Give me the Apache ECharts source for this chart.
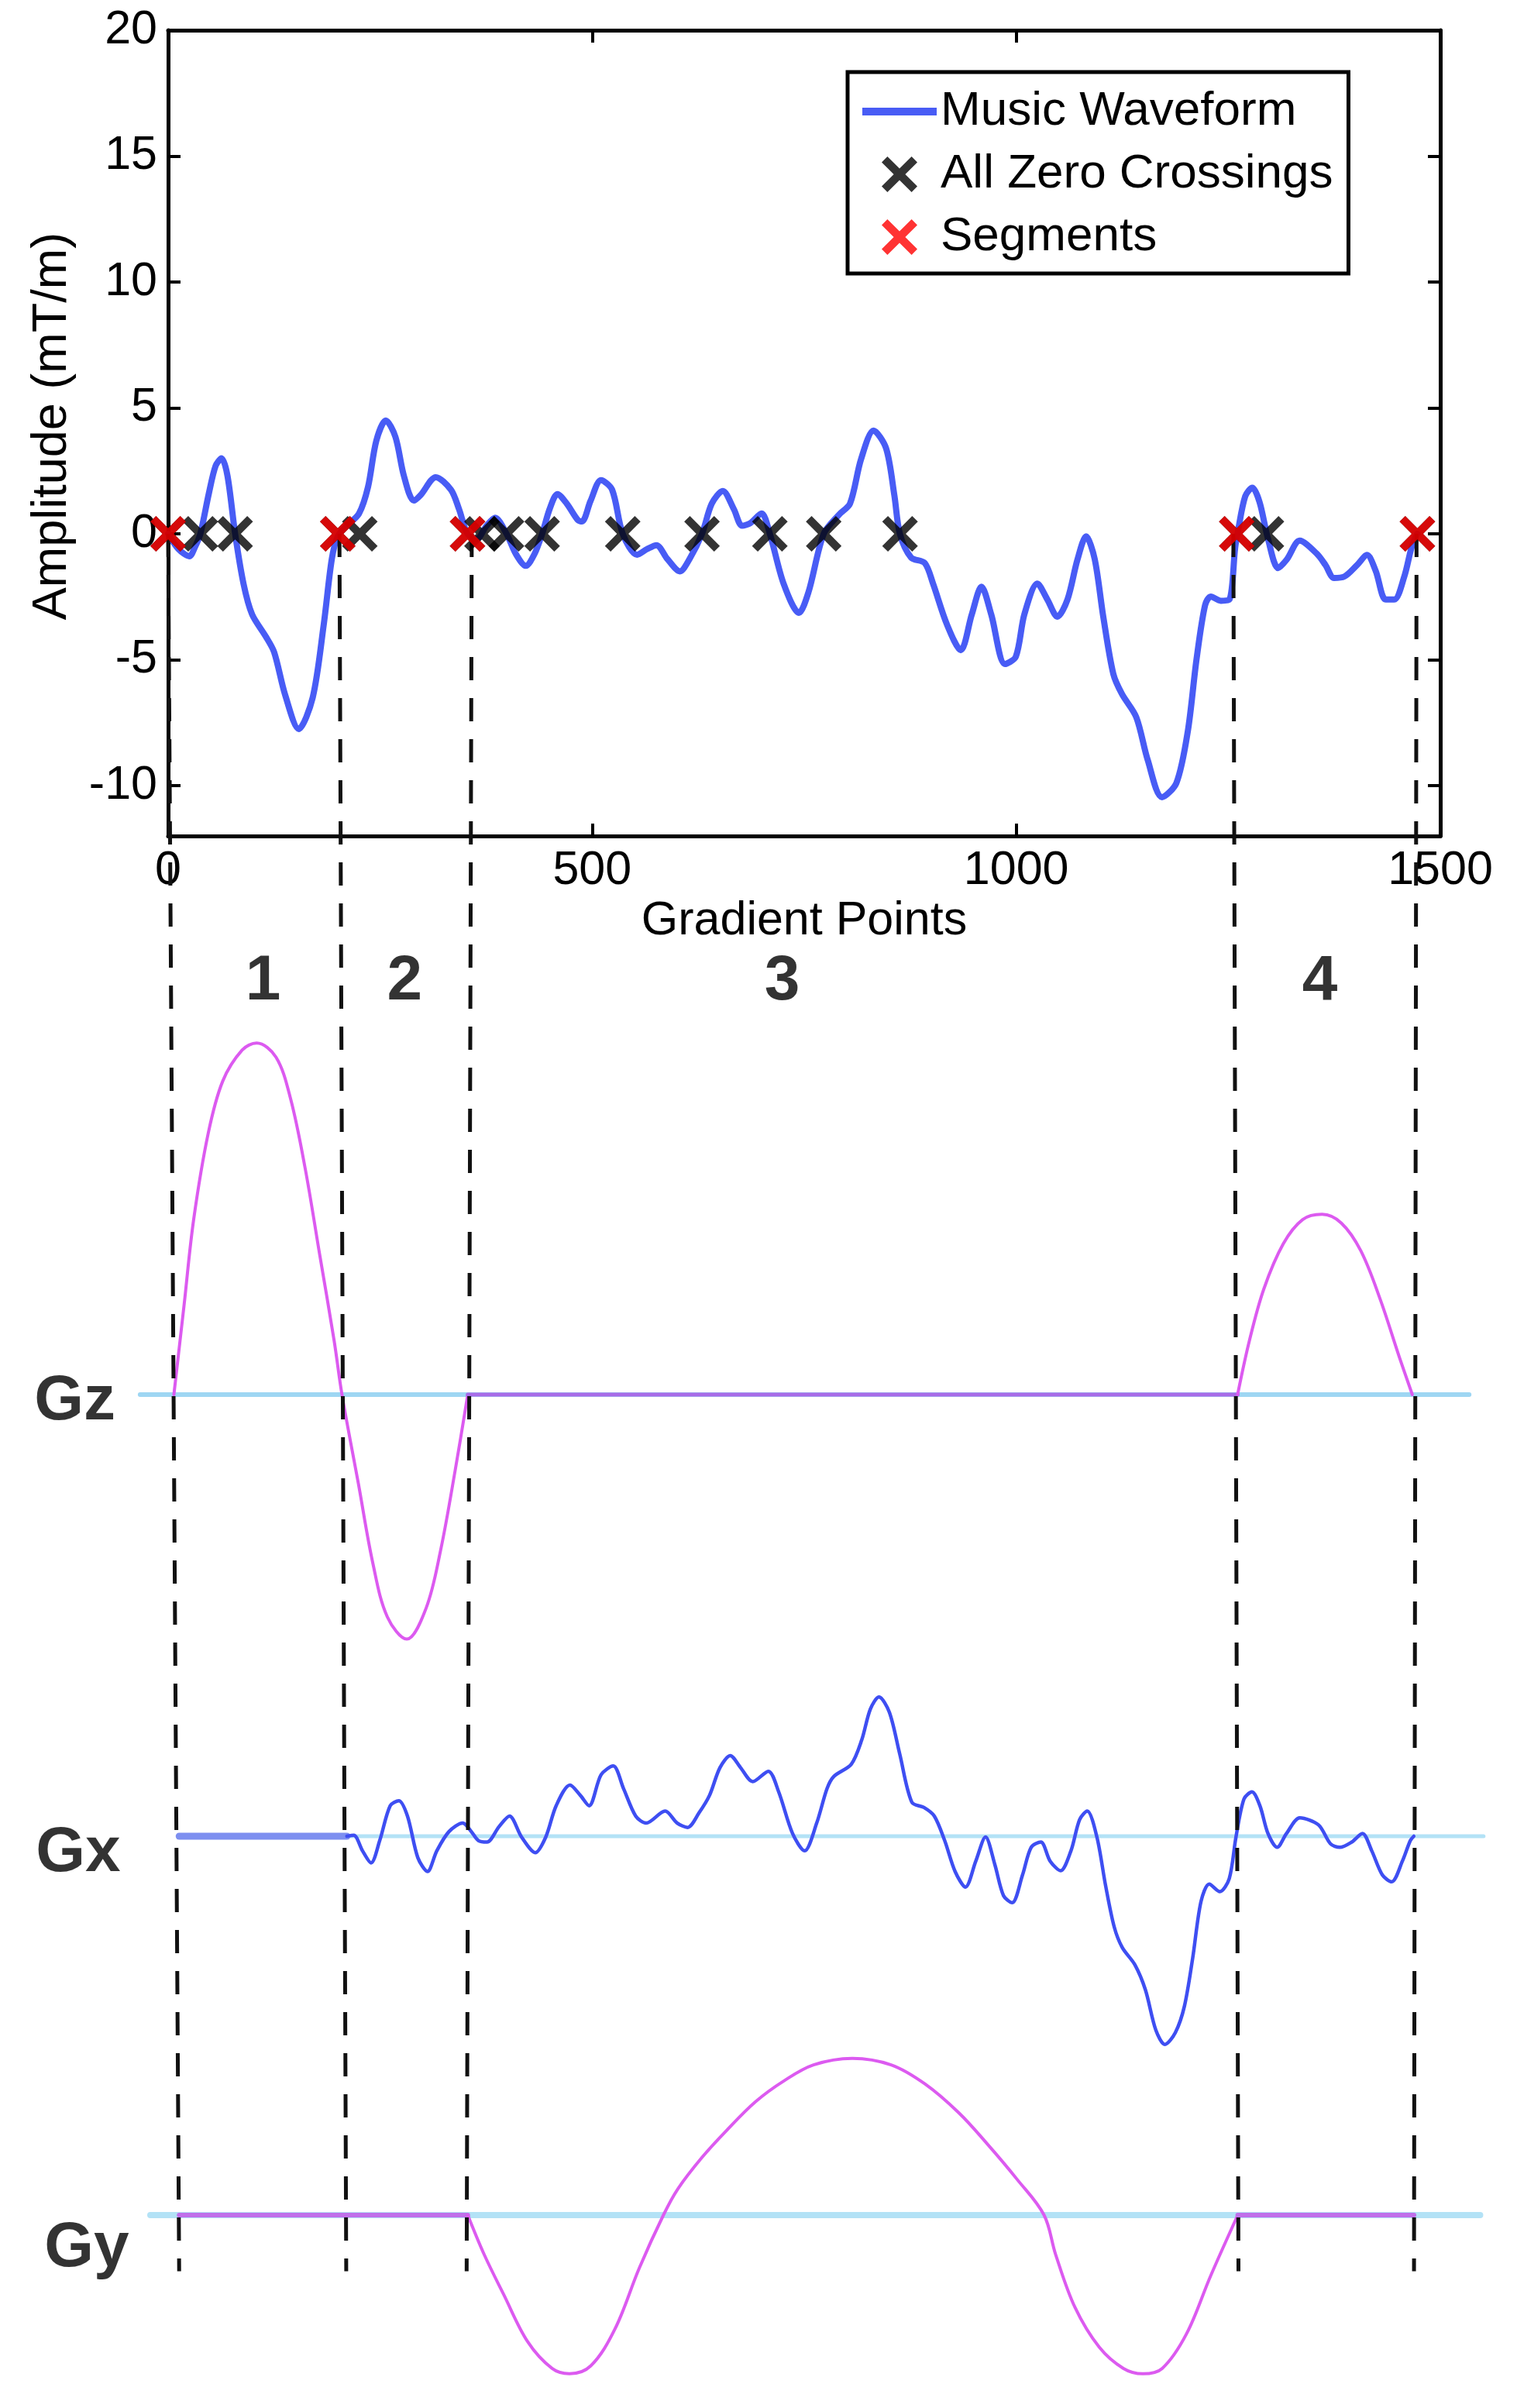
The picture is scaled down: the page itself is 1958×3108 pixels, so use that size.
<!DOCTYPE html>
<html>
<head>
<meta charset="utf-8">
<script src="https://cdn.jsdelivr.net/npm/echarts@6/dist/echarts.min.js"></script>
<style>
html,body{margin:0;padding:0;background:#fff;}
#c{width:1958px;height:3108px;}
</style>
</head>
<body>
<div id="c"></div>
<script>
// ---------- data ----------
const xTicks = [0, 500, 1000, 1500];
const yTicks = [-10, -5, 0, 5, 10, 15, 20];

const musicWaveform = [
  [0,0],[12,-0.6],[25,-0.89],[32,-0.5],[38,0],[48,1.6],[56,2.7],[63,3.0],[70,2.3],[79,0],
  [89,-2.0],[99,-3.2],[115,-4.07],[125,-4.7],[138,-6.4],[154,-7.75],[170.5,-6.5],[183.5,-3.6],[193,-1.0],[200,-0.1],
  [210,0.3],[225,0.8],[235.7,1.86],[245.5,3.7],[256.7,4.5],[268,3.85],[278,2.3],[289.6,1.32],[297.7,1.54],[315.6,2.25],
  [333.5,1.75],[343,0.98],[353,0],[364,-0.2],[375,0.3],[385.5,0.64],[399,0],[410,-0.8],[421.7,-1.27],[432,-0.8],
  [441,0],[450,1.0],[459,1.58],[470,1.2],[483,0.55],[488,0.49],[498,1.3],[510.4,2.13],[523.5,1.75],[536,0],
  [553,-0.83],[565,-0.6],[575.7,-0.45],[588.7,-1.0],[603.4,-1.49],[614.8,-1.0],[629.5,0],[641,1.2],[654,1.7],[667,0.98],
  [676.8,0.32],[686.6,0.43],[699.7,0.81],[709.5,0],[725.8,-1.99],[743.8,-3.14],[755,-2.32],[773,0],[791,0.76],[804,1.2],
  [817,2.96],[831.8,4.1],[846.5,3.4],[856.3,1.53],[862.8,0],[876,-0.94],[892.2,-1.16],[902,-1.99],[918.3,-3.6],[934.6,-4.62],
  [947.6,-3.2],[959,-2.1],[970.5,-3.2],[986.8,-5.17],[999.5,-4.88],[1009.7,-3.18],[1024.9,-1.98],[1036.7,-2.61],[1048.5,-3.29],[1060.4,-2.61],
  [1072.2,-1.02],[1082.4,-0.1],[1092.5,-1.0],[1102.6,-3.29],[1114.5,-5.57],[1124.6,-6.36],[1141.5,-7.28],[1155,-8.98],[1171.9,-10.46],[1188.8,-9.9],
  [1202.3,-7.84],[1212.5,-5.0],[1222.6,-2.84],[1229.4,-2.49],[1241.2,-2.66],[1251.4,-2.61],[1258.1,-0.56],[1261.5,0.12],[1270,1.49],[1278.4,1.83],
  [1286.9,1.26],[1297,-0.22],[1308.8,-1.36],[1319,-1.02],[1334.2,-0.27],[1354.4,-0.79],[1364.6,-1.24],[1374.7,-1.75],[1386.6,-1.7],[1401.8,-1.24],
  [1413.6,-0.84],[1423.8,-1.47],[1435.6,-2.61],[1445.7,-2.61],[1457.5,-1.7],[1466,-0.56],[1472.7,0]
];
const zeroCrossings = [0, 38, 79, 200, 226, 353, 370, 399, 441, 536, 629.5, 709.5, 773, 863, 1260, 1295, 1473];
const segmentPoints = [0, 200, 353, 1260, 1473];

// dashed segment boundaries: top end at amplitude 0, bottom end in the overlay's depth units
const dashTopX = [0, 202, 358, 1256, 1472];
const dashBottomX = [13, 210, 352, 1262, 1469];
const dashDepth = -69;

const segmentNames = ['1', '2', '3', '4'];
const segmentLabelX = [112, 279, 724, 1358];
const segmentLabelY = -17.8;

// Gz
const gzArch12 = [[6.8,0],[18.7,3.52],[30.1,6.95],[47.3,10.38],[64.4,12.45],[87.2,13.68],[104.4,13.96],[127.2,13.4],[144.3,11.76],[161.5,9.0],[178.6,5.58],[195.7,2.15],[205,0],[224.3,-3.53],[241.4,-6.7],[258.5,-8.83],[281.4,-9.71],[304.2,-8.48],[321.3,-6.18],[338.5,-3.0],[353.3,0]];
const gzFlat = [[353.3,0],[1261,0]];
const gzArch4 = [[1261,0],[1274.9,2.14],[1292,4.2],[1314.9,5.99],[1337.7,6.95],[1360.6,7.16],[1383.4,6.81],[1406.3,5.71],[1429.1,3.79],[1452,1.46],[1467,0]];
const gzBaseline = [[-33,0],[1534,0]];

// Gx
const gxFlat = [[13,0],[210.8,0]];
const gxWave = [
  [210.8,0],[218.9,0.04],[229.2,-0.58],[239.3,-1.06],[249.5,-0.17],[261.8,1.21],[272,1.41],[282.2,0.8],[294.4,-0.85],[305.8,-1.4],
  [316.8,-0.58],[331.1,0.18],[347.4,0.52],[357.6,0.18],[365.8,-0.17],[376,-0.23],[390.2,0.38],[402.5,0.8],[416.7,-0.03],[433,-0.65],
  [445.3,-0.03],[457.5,1.21],[473.8,2.03],[486.1,1.62],[496.3,1.21],[510.5,2.44],[524.8,2.79],[537,1.89],[551.3,0.8],[563.6,0.52],
  [586,1.0],[600.3,0.52],[612.5,0.35],[626,0.93],[638.3,1.62],[650.6,2.72],[662.8,3.2],[675,2.72],[689.3,2.17],[707.7,2.58],
  [719.9,1.76],[736.2,0.11],[750.5,-0.58],[764.7,0.52],[777,1.9],[785.1,2.38],[805.5,2.86],[817.8,3.82],[828,5.05],[838.1,5.53],
  [850.4,4.92],[862.6,3.27],[876.9,1.35],[891.2,1.14],[903.4,0.8],[915.6,-0.17],[927.9,-1.4],[940.1,-2.02],[952.3,-0.99],[963.8,-0.03],
  [974.8,-1.13],[985,-2.36],[995.2,-2.64],[1007.4,-1.54],[1017.6,-0.44],[1029,-0.23],[1040,-0.99],[1052.3,-1.37],[1064.5,-0.58],[1074.7,0.66],
  [1083.7,1.0],[1095.1,-0.03],[1105.3,-1.95],[1115.5,-3.6],[1125,-4.42],[1140,-5.11],[1152.3,-6.1],[1164.6,-7.7],[1175.3,-8.27],[1187.6,-7.8],
  [1198.3,-6.75],[1208,-4.85],[1217.8,-2.6],[1227.6,-1.9],[1240,-2.2],[1251.2,-1.68],[1259.1,-0.03],[1268.5,1.48],[1277.9,1.76],[1287.3,1.21],
  [1296.8,0.11],[1307.7,-0.44],[1318.7,0.11],[1334.4,0.73],[1356.4,0.45],[1370.5,-0.3],[1381.5,-0.44],[1395.6,-0.23],[1408.2,0.11],[1419.2,-0.58],
  [1431.7,-1.54],[1442.7,-1.81],[1455.3,-0.99],[1464.7,-0.17],[1468.8,0]
];
const gxBaseline = [[13,0],[1551,0]];

// Gy
const gyFlat1 = [[13,0],[353.3,0]];
const gyWave = [
  [353.3,0],[372.7,-1.64],[395.6,-3.29],[424.1,-5.26],[452.7,-6.36],[473.2,-6.58],[498.4,-6.25],[526.9,-4.72],[555.5,-2.2],[584,0],
  [601.1,1.09],[629.7,2.4],[658.2,3.5],[692.5,4.7],[726.7,5.58],[761,6.23],[806.7,6.5],[852.4,6.23],[892.3,5.44],[932.3,4.24],
  [966.6,2.92],[1000.8,1.49],[1032.8,0],[1046.5,-1.64],[1069.3,-3.83],[1097.9,-5.48],[1126.4,-6.36],[1149.3,-6.58],[1172.1,-6.36],[1200.7,-4.93],
  [1229.2,-2.52],[1261.2,0]
];
const gyFlat2 = [[1261.2,0],[1469,0]];
const gyBaseline = [[-21,0],[1547,0]];

const panelNames = ['Gz', 'Gx', 'Gy'];
const panelLabelX = [-110, -106, -96];
const panelLabelY = [-0.3, -0.7, -1.4];

// ---------- styling / layout ----------
const FONT = '"Liberation Sans", Arial, Helvetica, sans-serif';
const X_PATH = 'path://M0,16 L16,0 L50,34 L84,0 L100,16 L66,50 L100,84 L84,100 L50,66 L16,100 L0,84 L34,50 Z';
const X_ICON = 'path://M0,0 M96,46 M25,7.4 L32.4,0 L48,15.6 L63.6,0 L71,7.4 L55.4,23 L71,38.6 L63.6,46 L48,30.4 L32.4,46 L25,38.6 L40.6,23 Z';
const LINE_ICON = 'path://M0,0 M96,46 M0,18 L96,18 L96,28 L0,28 Z';
const WAVE_BLUE = '#485cf5';
const GX_BLUE = '#3e4ef2';
const PINK = '#dc5af0';
const BASE_BLUE = '#9ed6f3';

const PX_PER_UNIT = 32.5;          // vertical scale shared by all panels
const LEFT = 217, WIDTH = 1642;    // top plot box
const X_MIN = 0, X_MAX = 1500;
const PX_PER_X = WIDTH / (X_MAX - X_MIN);
const LOW_X_MIN = -130, LOW_X_MAX = 1560; // lower panels: same scale, wider extent
const ZERO_Y = 39 + 20 * PX_PER_UNIT;     // pixel row of amplitude 0 in the top plot

// axis indices (x and y arrays share the same ordering)
const AX_TOP = 0, AX_OVER = 2, AX_GZ = 3, AX_GX = 4, AX_GY = 5;

function frameAxis(extra) {
  return Object.assign({
    type: 'value',
    axisLine: { show: true, onZero: false, lineStyle: { color: '#000', width: 5 } },
    axisTick: { show: true, inside: true, length: 16, lineStyle: { color: '#000', width: 4 } },
    axisLabel: { show: false },
    splitLine: { show: false }
  }, extra);
}
function hiddenAxis(extra) {
  return Object.assign({ type: 'value', show: false, splitLine: { show: false } }, extra);
}

const panels = [
  { base: 1800, min: -11, max: 15 },
  { base: 2370, min: -9, max: 7 },
  { base: 2870, min: -8, max: 8 }
];

const lowLeft = LEFT + (LOW_X_MIN - X_MIN) * PX_PER_X;
const lowWidth = (LOW_X_MAX - LOW_X_MIN) * PX_PER_X;

const grids = [
  { left: LEFT, top: 39, width: WIDTH, height: 32 * PX_PER_UNIT },                      // 0 top plot
  { left: LEFT, top: ZERO_Y, width: WIDTH, height: -dashDepth * PX_PER_UNIT }           // 1 overlay for dashes / numbers
];
panels.forEach(p => grids.push({ left: lowLeft, top: p.base - p.max * PX_PER_UNIT, width: lowWidth, height: (p.max - p.min) * PX_PER_UNIT }));

const plainNum = v => String(v);

const xAxes = [
  frameAxis({ gridIndex: 0, min: X_MIN, max: X_MAX, position: 'bottom',
    axisTick: { show: true, inside: true, length: 16, lineStyle: { color: '#000', width: 4 }, customValues: xTicks },
    axisLabel: { show: true, customValues: xTicks, formatter: plainNum, margin: 15, color: '#000', fontSize: 61, fontFamily: FONT },
    name: 'Gradient Points', nameLocation: 'middle', nameGap: 80,
    nameTextStyle: { color: '#000', fontSize: 61, fontFamily: FONT } }),
  frameAxis({ gridIndex: 0, min: X_MIN, max: X_MAX, position: 'top',
    axisTick: { show: true, inside: true, length: 16, lineStyle: { color: '#000', width: 4 }, customValues: xTicks } }),
  hiddenAxis({ gridIndex: 1, min: X_MIN, max: X_MAX }),
  hiddenAxis({ gridIndex: 2, min: LOW_X_MIN, max: LOW_X_MAX }),
  hiddenAxis({ gridIndex: 3, min: LOW_X_MIN, max: LOW_X_MAX }),
  hiddenAxis({ gridIndex: 4, min: LOW_X_MIN, max: LOW_X_MAX })
];
const yAxes = [
  frameAxis({ gridIndex: 0, min: -12, max: 20, position: 'left',
    axisTick: { show: true, inside: true, length: 16, lineStyle: { color: '#000', width: 4 }, customValues: yTicks },
    axisLabel: { show: true, customValues: yTicks, formatter: plainNum, margin: 14, color: '#000', fontSize: 61, fontFamily: FONT },
    name: 'Amplitude (mT/m)', nameLocation: 'middle', nameGap: 118,
    nameTextStyle: { color: '#000', fontSize: 63, fontFamily: FONT, padding: [0, 0, 0, 18] } }),
  frameAxis({ gridIndex: 0, min: -12, max: 20, position: 'right',
    axisTick: { show: true, inside: true, length: 16, lineStyle: { color: '#000', width: 4 }, customValues: yTicks } }),
  hiddenAxis({ gridIndex: 1, min: dashDepth, max: 0 }),
  hiddenAxis({ gridIndex: 2, min: panels[0].min, max: panels[0].max }),
  hiddenAxis({ gridIndex: 3, min: panels[1].min, max: panels[1].max }),
  hiddenAxis({ gridIndex: 4, min: panels[2].min, max: panels[2].max })
];

function lineSeries(data, axis, color, width, z, smooth, name) {
  const s = {
    type: 'line', data: data,
    xAxisIndex: axis, yAxisIndex: axis,
    showSymbol: false, symbol: 'none', smooth: smooth,
    clip: false, z: z, silent: true,
    lineStyle: { color: color, width: width, cap: 'round', join: 'round' },
    itemStyle: { color: color }
  };
  if (name) s.name = name;
  return s;
}

const series = [];
// top plot
series.push(lineSeries(musicWaveform, AX_TOP, WAVE_BLUE, 8, 3, 0.3, 'Music Waveform'));
// dashed segment boundaries (overlay grid)
dashTopX.forEach((x, i) => {
  series.push({
    type: 'line', data: [[x, 0], [dashBottomX[i], dashDepth]],
    xAxisIndex: AX_OVER, yAxisIndex: AX_OVER, showSymbol: false, symbol: 'none',
    clip: false, z: 4, silent: true,
    lineStyle: { color: '#111', width: 5, type: [30, 23] }
  });
});
series.push({
  type: 'scatter', name: 'All Zero Crossings', data: zeroCrossings.map(x => [x, 0]),
  xAxisIndex: AX_TOP, yAxisIndex: AX_TOP, symbol: X_PATH, symbolSize: 46, clip: false, z: 6,
  itemStyle: { color: '#000' }
});
series.push({
  type: 'scatter', name: 'Segments', data: segmentPoints.map(x => [x, 0]),
  xAxisIndex: AX_TOP, yAxisIndex: AX_TOP, symbol: X_PATH, symbolSize: 46, clip: false, z: 7,
  itemStyle: { color: '#ff0000' }
});
// segment numbers
series.push({
  type: 'scatter', data: segmentLabelX.map(x => [x, segmentLabelY]),
  xAxisIndex: AX_OVER, yAxisIndex: AX_OVER, symbolSize: 0, clip: false, z: 8, silent: true,
  label: { show: true, position: 'inside', formatter: p => segmentNames[p.dataIndex],
    fontSize: 82, fontWeight: 'bold', fontFamily: FONT, color: '#000' }
});

// Gz panel
series.push(lineSeries(gzBaseline, AX_GZ, BASE_BLUE, 6, 2, false));
series.push(lineSeries(gzArch12, AX_GZ, PINK, 4, 3, 0.35));
series.push(lineSeries(gzFlat, AX_GZ, '#a86ce8', 5, 3, false));
series.push(lineSeries(gzArch4, AX_GZ, PINK, 4, 3, 0.35));
// Gx panel
series.push(lineSeries(gxBaseline, AX_GX, '#b3e2f6', 5, 2, false));
series.push(lineSeries(gxFlat, AX_GX, '#7d8ff0', 9, 3, false));
series.push(lineSeries(gxWave, AX_GX, GX_BLUE, 4.5, 3, 0.3));
// Gy panel
series.push(lineSeries(gyBaseline, AX_GY, '#b3e2f6', 8, 2, false));
series.push(lineSeries(gyFlat1, AX_GY, '#c070ea', 6, 3, false));
series.push(lineSeries(gyWave, AX_GY, PINK, 4, 3, 0.35));
series.push(lineSeries(gyFlat2, AX_GY, '#c070ea', 6, 3, false));

// panel labels
const panelAxes = [AX_GZ, AX_GX, AX_GY];
panelNames.forEach((n, i) => {
  series.push({
    type: 'scatter', data: [[panelLabelX[i], panelLabelY[i]]],
    xAxisIndex: panelAxes[i], yAxisIndex: panelAxes[i], symbolSize: 0, clip: false, z: 8, silent: true,
    label: { show: true, position: 'inside', formatter: n,
      fontSize: 82, fontWeight: 'bold', fontFamily: FONT, color: '#000' }
  });
});

const option = {
  backgroundColor: '#fff',
  animation: false,
  grid: grids,
  xAxis: xAxes,
  yAxis: yAxes,
  legend: {
    orient: 'vertical', left: 1094, top: 93,
    padding: [20, 20, 16, 19],
    itemWidth: 96, itemHeight: 46, itemGap: 19,
    backgroundColor: '#fff', borderColor: '#000', borderWidth: 5, borderRadius: 0,
    selectedMode: false,
    textStyle: { fontSize: 62, fontFamily: FONT, color: '#000' },
    data: [
      { name: 'Music Waveform', icon: LINE_ICON },
      { name: 'All Zero Crossings', icon: X_ICON },
      { name: 'Segments', icon: X_ICON }
    ]
  },
  series: series
};

const chart = echarts.init(document.getElementById('c'), null, { renderer: 'canvas' });
chart.setOption(option);
</script>
</body>
</html>
